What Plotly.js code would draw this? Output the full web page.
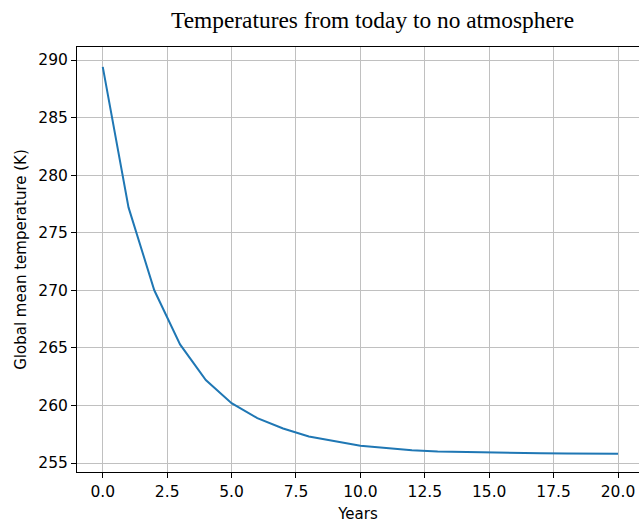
<!DOCTYPE html>
<html>
<head>
<meta charset="utf-8">
<script src="https://cdn.plot.ly/plotly-3.0.1.min.js"></script>
<style>html,body{margin:0;padding:0;background:#fff;}#chart{width:639px;height:523px;}</style>
</head>
<body>
<div id="chart"></div>
<script>
const years = [0,1,2,3,4,5,6,7,8,9,10,11,12,13,14,15,16,17,18,19,20];
const temperatures = [289.4,277.2,270.0,265.3,262.2,260.2,258.9,258.0,257.3,256.9,256.5,256.3,256.1,256.0,255.95,255.9,255.87,255.85,255.83,255.82,255.8];
const xTicks = [0,2.5,5,7.5,10,12.5,15,17.5,20];
const xTickLabels = ["0.0","2.5","5.0","7.5","10.0","12.5","15.0","17.5","20.0"];
const yTicks = [255,260,265,270,275,280,285,290];

const trace = {
  x: years, y: temperatures, type: 'scatter', mode: 'lines',
  line: {color: '#1f77b4', width: 2}, hoverinfo: 'skip'
};
const tickFont = {family: 'DejaVu Sans', size: 15.5, color: '#000'};
const layout = {
  width: 639, height: 523,
  margin: {l: 77, r: 0, t: 47, b: 51},
  paper_bgcolor: '#fff', plot_bgcolor: '#fff',
  showlegend: false,
  title: {text: 'Temperatures from today to no atmosphere', font: {family: 'Liberation Serif', size: 23.4, color: '#000'},
          x: 0.583, xanchor: 'center', xref: 'container', y: 0.963, yanchor: 'middle', yref: 'container'},
  xaxis: {
    range: [-1, 20.815], tickvals: xTicks, ticktext: xTickLabels,
    showgrid: true, gridcolor: '#c0c0c0', gridwidth: 1,
    showline: true, linecolor: '#000', linewidth: 1, mirror: true,
    ticks: 'outside', ticklen: 5, tickcolor: '#000', tickwidth: 1,
    tickfont: tickFont, zeroline: false,
    title: {text: 'Years', font: {family: 'DejaVu Sans', size: 15, color: '#000'}, standoff: 8}
  },
  yaxis: {
    range: [254.22, 291.13], tickvals: yTicks,
    showgrid: true, gridcolor: '#c0c0c0', gridwidth: 1,
    showline: true, linecolor: '#000', linewidth: 1, mirror: false,
    ticks: 'outside', ticklen: 5, tickcolor: '#000', tickwidth: 1,
    tickfont: tickFont, zeroline: false,
    title: {text: 'Global mean temperature (K)', font: {family: 'DejaVu Sans', size: 15, color: '#000'}, standoff: 8}
  }
};
Plotly.newPlot('chart', [trace], layout, {staticPlot: true, displayModeBar: false});
</script>
</body>
</html>
